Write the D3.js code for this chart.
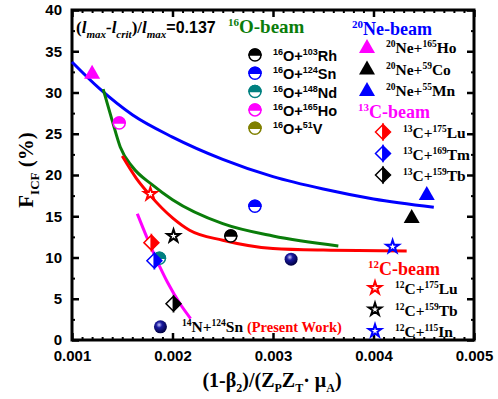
<!DOCTYPE html>
<html>
<head>
<meta charset="utf-8">
<script src="https://cdn.jsdelivr.net/npm/d3@7"></script>
<style>
  body { margin: 0; background: #fff; }
</style>
</head>
<body>
<script>
const w = 498;
const h = 399;

// axis ticks
const xTicks = [0.001, 0.002, 0.003, 0.004, 0.005];
const yTicks = [0, 5, 10, 15, 20, 25, 30, 35, 40];

// fitted curves
const blueCurve = [[0.001, 33.7], [0.00128, 30.4], [0.0016, 27.3], [0.002, 24.6], [0.0025, 21.9], [0.003, 19.8], [0.0035, 18.3], [0.004, 17.1], [0.0046, 16.1]];
const greenCurve = [[0.00131, 30.4], [0.0014, 26.6], [0.00148, 23.4], [0.0016, 21.0], [0.0018, 18.8], [0.002, 17.0], [0.0025, 14.1], [0.003, 12.6], [0.00365, 11.4]];
const redCurve = [[0.0015, 22.3], [0.00164, 19.6], [0.00178, 17.5], [0.002, 14.8], [0.00217, 13.3], [0.0025, 12.1], [0.003, 11.1], [0.0035, 10.9], [0.00433, 10.8]];
const magentaCurve = [[0.00165, 15.3], [0.00175, 12.3], [0.00185, 9.5], [0.00195, 7.0], [0.00208, 4.3], [0.00218, 2.6]];

// data points
const oRh = [[0.00258, 12.6]];
const oSn = [[0.00282, 16.2]];
const oNd = [[0.00187, 9.9]];
const oHo = [[0.00147, 26.3]];
const oV = [];
const neHo = [[0.00120, 32.4]];
const neCo = [[0.00438, 14.9]];
const neMn = [[0.00453, 17.7]];
const c13Lu = [[0.00179, 11.8]];
const c13Tm = [[0.00182, 9.6]];
const c13Tb = [[0.00201, 4.4]];
const c12Lu = [[0.00178, 17.7]];
const c12Tb = [[0.00201, 12.6]];
const c12In = [[0.00419, 11.3]];
const nSn = [[0.00188, 1.6], [0.00318, 9.8]];

const pLeft = 72, pRight = 474, pTop = 10, pBottom = 340;

const svg = d3.select('body')
  .append('svg')
  .attr('width', w)
  .attr('height', h);

const defs = svg.append('defs');
const grad = defs.append('radialGradient')
  .attr('id', 'sphere')
  .attr('cx', '40%').attr('cy', '35%').attr('r', '65%');
grad.append('stop').attr('offset', '0%').attr('stop-color', '#c8c8ff');
grad.append('stop').attr('offset', '35%').attr('stop-color', '#1a1aa0');
grad.append('stop').attr('offset', '100%').attr('stop-color', '#000040');

const xScale = d3.scaleLinear().domain([0.001, 0.005]).range([pLeft, pRight]);
const yScale = d3.scaleLinear().domain([0, 40]).range([pBottom, pTop]);

const sans = 'Liberation Sans, Arial, sans-serif';
const serif = 'Liberation Serif, Times New Roman, serif';

// axes (ticks pointing inward)
const xAxis = d3.axisBottom(xScale).tickValues(xTicks).tickSize(-7).tickPadding(10).tickFormat(d3.format('.3f'));
const xAxisTop = d3.axisTop(xScale).tickValues(xTicks).tickSize(-7).tickFormat('');
const yAxis = d3.axisLeft(yScale).tickValues(yTicks).tickSize(-7).tickPadding(10).tickFormat(d3.format('d'));
const yAxisRight = d3.axisRight(yScale).tickValues(yTicks).tickSize(-7).tickFormat('');

const xMinor = d3.range(0.0011, 0.005, 0.0001).filter(v => Math.abs(v * 1000 - Math.round(v * 1000)) > 1e-6);
const yMinor = d3.range(2.5, 40, 5);

function drawAxis(gen, tr, minors, minorGen) {
  svg.append('g').attr('transform', tr).call(minorGen.tickValues(minors).tickSize(-3).tickFormat(''))
    .call(g => g.select('.domain').remove())
    .call(g => g.selectAll('line').attr('stroke-width', 2));
  const g = svg.append('g').attr('transform', tr).call(gen);
  g.select('.domain').remove();
  g.selectAll('line').attr('stroke-width', 2.5);
  g.selectAll('text').attr('font-family', sans).attr('font-weight', 'bold').attr('font-size', 15).attr('fill', '#000');
  return g;
}
drawAxis(xAxis, `translate(0,${pBottom})`, xMinor, d3.axisBottom(xScale));
drawAxis(xAxisTop, `translate(0,${pTop})`, xMinor, d3.axisTop(xScale));
drawAxis(yAxis, `translate(${pLeft},0)`, yMinor, d3.axisLeft(yScale));
drawAxis(yAxisRight, `translate(${pRight},0)`, yMinor, d3.axisRight(yScale));

svg.append('rect')
  .attr('x', pLeft).attr('y', pTop)
  .attr('width', pRight - pLeft).attr('height', pBottom - pTop)
  .attr('fill', 'none').attr('stroke', '#000').attr('stroke-width', 3);

// rich text helper: parts [text, offset, size, extra]
function rich(x, y, parts, base) {
  const t = svg.append('text').attr('x', x).attr('y', y)
    .attr('font-family', base.family).attr('font-weight', 'bold')
    .attr('fill', base.color || '#000').attr('font-size', base.size);
  let off = 0;
  parts.forEach(p => {
    const s = t.append('tspan').text(p[0]).attr('dy', (p[1] || 0) - off);
    off = p[1] || 0;
    if (p[2]) s.attr('font-size', p[2]);
    if (p[3]) Object.entries(p[3]).forEach(([k, v]) => s.attr(k, v));
  });
  return t;
}

// curves
const line = d3.line().x(d => xScale(d[0])).y(d => yScale(d[1])).curve(d3.curveMonotoneX);
[[blueCurve, '#0000ff'], [greenCurve, '#0a7d0a'], [redCurve, '#ff0000'], [magentaCurve, '#ff00ff']].forEach(([data, color]) => {
  svg.append('path').datum(data).attr('d', line)
    .attr('fill', 'none').attr('stroke', color).attr('stroke-width', 3);
});

// marker drawing
function halfCircle(g, color) {
  g.append('circle').attr('r', 6).attr('fill', '#fff').attr('stroke', color).attr('stroke-width', 1.5);
  g.append('path').attr('d', 'M-6,0 A6,6 0 0 1 6,0 Z').attr('fill', color).attr('stroke', color).attr('stroke-width', 1.5);
}
function triangle(g, color) {
  g.append('path').attr('d', 'M0,-8 L8,6 L-8,6 Z').attr('fill', color);
}
function diamond(g, color) {
  g.append('path').attr('d', 'M0,-7.5 L0,7.5 L-7.5,0 Z').attr('fill', '#fff').attr('stroke', color).attr('stroke-width', 1.5);
  g.append('path').attr('d', 'M0,-7.5 L7.5,0 L0,7.5 Z').attr('fill', color).attr('stroke', color).attr('stroke-width', 1.5);
}
const starPath = d3.symbol().type(d3.symbolStar).size(50)();
function star(g, color) {
  g.append('path').attr('d', starPath).attr('fill', '#fff').attr('stroke', color).attr('stroke-width', 2);
}
function sphere(g) {
  g.append('circle').attr('r', 6.5).attr('fill', 'url(#sphere)');
}

function plot(data, fn, color) {
  svg.append('g').selectAll('g').data(data).enter().append('g')
    .attr('transform', d => `translate(${xScale(d[0])},${yScale(d[1])})`)
    .each(function () { fn(d3.select(this), color); });
}

plot(oRh, halfCircle, '#000');
plot(oSn, halfCircle, '#0000ff');
plot(oNd, halfCircle, '#008080');
plot(oHo, halfCircle, '#ff00ff');
plot(oV, halfCircle, '#808000');
plot(neHo, triangle, '#ff00ff');
plot(neCo, triangle, '#000');
plot(neMn, triangle, '#0000ff');
plot(c13Lu, diamond, '#ff0000');
plot(c13Tm, diamond, '#0000ff');
plot(c13Tb, diamond, '#000');
plot(c12Lu, star, '#ff0000');
plot(c12Tb, star, '#000');
plot(c12In, star, '#0000ff');
plot(nSn, sphere);

// legend markers
function legendMark(x, y, fn, color) {
  const g = svg.append('g').attr('transform', `translate(${x},${y})`);
  fn(g, color);
}

// ratio text
rich(76, 33, [
  ['('], ['l', 0, null, { 'font-style': 'italic' }], ['max', 5, 11, { 'font-style': 'italic' }],
  ['-l', 0, null, { 'font-style': 'italic' }], ['crit', 5, 11, { 'font-style': 'italic' }],
  [')/'], ['l', 0, null, { 'font-style': 'italic' }], ['max', 5, 11, { 'font-style': 'italic' }],
  ['=0.137', 0, 16, { 'font-family': sans }]
], { family: serif, size: 17 });

// 16O beam legend
rich(228, 33, [['16', -7, 11], ['O-beam']], { family: serif, size: 19, color: '#0a7d0a' });
const oLegend = [['103', 'Rh', '#000'], ['124', 'Sn', '#0000ff'], ['148', 'Nd', '#008080'], ['165', 'Ho', '#ff00ff'], ['51', 'V', '#808000']];
oLegend.forEach((d, i) => {
  const y = 55 + i * 18.3;
  legendMark(255, y, halfCircle, d[2]);
  rich(273, y + 6, [['16', -6, 9], ['O+', 0], [d[0], -6, 9], [d[1], 0]], { family: sans, size: 14.5 });
});

// 20Ne beam legend
rich(352, 35, [['20', -7, 11], ['Ne-beam']], { family: serif, size: 18, color: '#0000ff' });
const neLegend = [['165', 'Ho', '#ff00ff'], ['59', 'Co', '#000'], ['55', 'Mn', '#0000ff']];
neLegend.forEach((d, i) => {
  const y = 47 + i * 21.5;
  legendMark(367, y, triangle, d[2]);
  rich(386, y + 6, [['20', -6, 9.5], ['Ne+', 0], [d[0], -6, 9.5], [d[1], 0]], { family: serif, size: 15.5 });
});

// 13C beam legend
rich(358, 118, [['13', -7, 11], ['C-beam']], { family: serif, size: 18, color: '#ff00ff' });
const c13Legend = [['175', 'Lu', '#ff0000'], ['169', 'Tm', '#0000ff'], ['159', 'Tb', '#000']];
c13Legend.forEach((d, i) => {
  const y = 132 + i * 21.5;
  legendMark(383, y, diamond, d[2]);
  rich(403, y + 6, [['13', -6, 9.5], ['C+', 0], [d[0], -6, 9.5], [d[1], 0]], { family: serif, size: 15.5 });
});

// 12C beam legend
rich(368, 275, [['12', -7, 11], ['C-beam']], { family: serif, size: 18, color: '#ff0000' });
const c12Legend = [['175', 'Lu', '#ff0000'], ['159', 'Tb', '#000'], ['115', 'In', '#0000ff']];
c12Legend.forEach((d, i) => {
  const y = 288 + i * 21.5;
  legendMark(375, y, star, d[2]);
  rich(395, y + 6, [['12', -6, 9.5], ['C+', 0], [d[0], -6, 9.5], [d[1], 0]], { family: serif, size: 15.5 });
});

// present work label
rich(182, 332, [['14', -6, 9.5], ['N+', 0], ['124', -6, 9.5], ['Sn ', 0],
  ['(Present Work)', 0, 14.5, { fill: '#ff0000' }]], { family: serif, size: 15.5 });

// axis titles
rich(272, 387, [['(1-β'], ['2', 5, 12], [')/(Z', 0], ['P', 5, 12], ['Z', 0], ['T', 5, 12], ['· μ', 0], ['A', 5, 12], [')', 0]],
  { family: serif, size: 20 }).attr('text-anchor', 'middle');

rich(0, 0, [['F'], ['ICF', 6, 13], [' (%)', 0]], { family: serif, size: 21 })
  .attr('text-anchor', 'middle')
  .attr('transform', 'translate(33,170) rotate(-90)');
</script>
</body>
</html>
